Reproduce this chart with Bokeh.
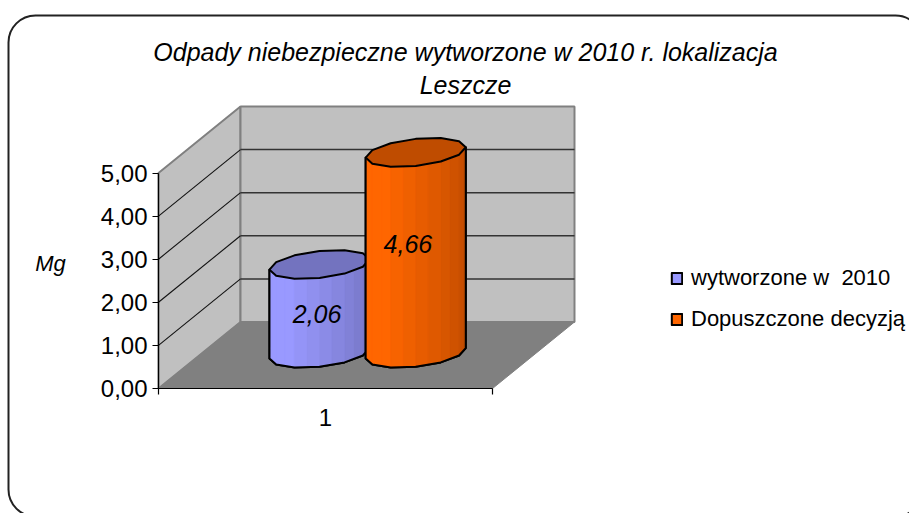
import math
from bokeh.plotting import figure
from bokeh.embed import file_html
from bokeh.resources import INLINE
from bokeh.core.properties import value
from bokeh.models import (Range1d, LinearAxis, FixedTicker, Label, BoxAnnotation,
                          Legend, LegendItem)

TITLE = "Odpady niebezpieczne wytworzone w 2010 r. lokalizacja\nLeszcze"
Y_LABEL = "Mg"
SERIES = ["wytworzone w  2010", "Dopuszczone decyzją"]
VALUES = [2.06, 4.66]
VALUE_LABELS = ["2,06", "4,66"]
Y_TICKS = [0, 1, 2, 3, 4, 5]
Y_TICK_LABELS = ["0,00", "1,00", "2,00", "3,00", "4,00", "5,00"]
CATEGORY = "1"

LIGHT = ["#9999FF", "#FF6600"]
DARK = ["#7373BF", "#BF4C00"]
FONT = "Liberation Sans"

# oblique projection of the 3D chart box, in axis units
DX, DY = 0.2455, 1.543
CENTERS = [0.352, 0.640]
DEPTH_C = 0.53
RX, RZ = 0.14, 0.218
YMAX_WALL = 5
SIDES = 12

W, H = 909, 513
PX_X, PX_Y = 334.0, 43.1      # pixels per axis unit
X0, Y0 = 158, 388             # pixel position of the axis origin

p = figure(width=W, height=H, output_backend="svg", toolbar_location=None,
           x_range=Range1d(-X0 / PX_X, (W - X0) / PX_X), y_range=Range1d(-(H - Y0) / PX_Y, Y0 / PX_Y),
           x_axis_location=None, y_axis_location=None,
           min_border_left=0, min_border_right=0, min_border_top=0, min_border_bottom=0,
           background_fill_color="white", border_fill_color="white", outline_line_color=None)
p.grid.visible = False


def proj(x, v, z):
    return x + DX * z, v + DY * z


def patch3d(pts, **kw):
    xy = [proj(*q) for q in pts]
    return p.patch([a for a, _ in xy], [b for _, b in xy], **kw)


def line3d(pts, **kw):
    xy = [proj(*q) for q in pts]
    return p.line([a for a, _ in xy], [b for _, b in xy], **kw)


wall = dict(fill_color="#C0C0C0", line_color="#808080", line_width=2)
patch3d([(0, 0, 0), (0, 0, 1), (0, YMAX_WALL, 1), (0, YMAX_WALL, 0)], **wall)
patch3d([(0, 0, 1), (1, 0, 1), (1, YMAX_WALL, 1), (0, YMAX_WALL, 1)], **wall)
patch3d([(0, 0, 0), (1, 0, 0), (1, 0, 1), (0, 0, 1)], fill_color="#808080", line_color="#808080", line_width=1)
for t in Y_TICKS[1:-1]:
    line3d([(0, t, 0), (0, t, 1)], line_color="#111111", line_width=1.1)
    line3d([(0, t, 1), (1, t, 1)], line_color="#333333", line_width=1.5)


def hex_mix(a, b, f):
    ca = [int(a[i:i + 2], 16) for i in (1, 3, 5)]
    cb = [int(b[i:i + 2], 16) for i in (1, 3, 5)]
    return "#%02x%02x%02x" % tuple(round(x + (y - x) * f) for x, y in zip(ca, cb))


t0 = math.atan2(RZ * DX, RX)
angles = [t0 + math.pi + 2 * math.pi * k / SIDES for k in range(SIDES + 1)]
legend_items = []

for name, cx, val, light, dark in zip(SERIES, CENTERS, VALUES, LIGHT, DARK):
    def pt(t, v):
        return (cx + RX * math.cos(t), v, DEPTH_C + RZ * math.sin(t))

    front = angles[:SIDES // 2 + 1]
    body = [pt(t, 0) for t in front] + [pt(t, val) for t in reversed(front)]
    body_r = patch3d(body, fill_color=light, line_color="black", line_width=2, line_join="round")
    legend_items.append(LegendItem(label=name, renderers=[body_r]))
    n = 2 * (len(front) - 1)
    for i in range(n):
        k = i // 2
        ta, tb = front[k], front[k + 1]
        f0 = (i % 2) / 2
        f1 = f0 + 0.5
        pa = [u + (w - u) * f0 for u, w in zip(pt(ta, 0), pt(tb, 0))]
        pb = [u + (w - u) * f1 for u, w in zip(pt(ta, 0), pt(tb, 0))]
        sh = max(0, (i - 3) / (n - 4))
        col = hex_mix(light, dark, min(1, sh))
        patch3d([(pa[0], 0, pa[2]), (pb[0], 0, pb[2]), (pb[0], val, pb[2]), (pa[0], val, pa[2])],
                fill_color=col, line_color=col, line_width=0.4)
    sil = [pt(front[0], val)] + [pt(t, 0) for t in front] + [pt(front[-1], val)]
    line3d(sil, line_color="black", line_width=2, line_join="round")
    patch3d([pt(t, val) for t in angles[:-1]], fill_color=dark, line_color="black", line_width=2, line_join="round")

label_x = [proj(c, 0, 0.5)[0] + d for c, d in zip(CENTERS, (0.0, -0.016))]
label_y = [1.74, 3.36]
p.text(label_x, label_y, text=VALUE_LABELS, text_align="center", text_baseline="middle",
       text_font=value(FONT), text_font_style="italic", text_font_size="25px", text_color="black")

yax = LinearAxis(fixed_location=0, bounds=(0, 5), ticker=FixedTicker(ticks=Y_TICKS),
                 major_label_overrides={t: s for t, s in zip(Y_TICKS, Y_TICK_LABELS)},
                 major_tick_in=0, major_tick_out=6, minor_tick_out=0, minor_tick_in=0,
                 axis_line_color="black", axis_line_width=1.2, major_tick_line_width=1.2,
                 major_label_text_color="black",
                 major_label_text_font=FONT, major_label_text_font_size="24px", major_label_standoff=5)
p.add_layout(yax, "left")
xax = LinearAxis(fixed_location=0, bounds=(0, 1), ticker=FixedTicker(ticks=[0.5], minor_ticks=[0, 1]),
                 major_label_overrides={0.5: CATEGORY},
                 major_tick_in=0, major_tick_out=0, minor_tick_out=6, minor_tick_in=0,
                 axis_line_color="black", axis_line_width=1.2, minor_tick_line_width=1.2,
                 major_label_text_color="black",
                 major_label_text_font=FONT, major_label_text_font_size="24px", major_label_standoff=14)
p.add_layout(xax, "below")

legend = Legend(items=legend_items,
                location=(670, 181), border_line_color=None, background_fill_alpha=0,
                label_text_font=FONT, label_text_font_size="22px", glyph_width=13, glyph_height=14,
                spacing=15, label_standoff=8, margin=0, padding=0, label_text_color="black")
p.add_layout(legend, "center")

p.add_layout(Label(x=465, y=H - 68, x_units="screen", y_units="screen", text=TITLE,
                   text_align="center", text_baseline="middle", text_font=FONT, text_color="black",
                   text_font_style="italic", text_font_size="25px", text_line_height=1.2))
p.add_layout(Label(x=50, y=H - 263, x_units="screen", y_units="screen", text=Y_LABEL,
                   text_align="center", text_baseline="middle", text_font=FONT, text_color="black",
                   text_font_style="italic", text_font_size="22px"))

p.add_layout(BoxAnnotation(left=8, right=922, top=H - 15, bottom=-3,
                           left_units="screen", right_units="screen", top_units="screen", bottom_units="screen",
                           fill_alpha=0, line_color="#222222", line_alpha=1, line_width=2, border_radius=27,
                           editable=False))

open("out.html", "w").write(file_html(p, INLINE))
